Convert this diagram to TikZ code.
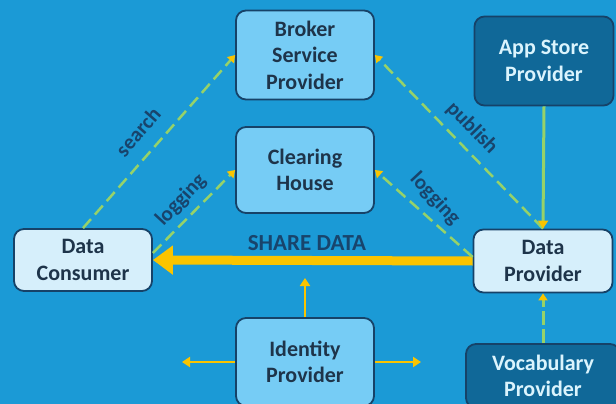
\documentclass[tikz,border=0pt]{standalone}
\usepackage{fontspec}
\setmainfont{Carlito}
\usetikzlibrary{arrows.meta}

\definecolor{bgblue}{RGB}{27,154,214}
\definecolor{lightbox}{RGB}{118,204,245}
\definecolor{palebox}{RGB}{214,239,251}
\definecolor{darkbox}{RGB}{16,104,152}
\definecolor{edgeblue}{RGB}{22,66,104}
\definecolor{textblue}{RGB}{30,52,74}
\definecolor{lblblue}{RGB}{24,68,108}
\definecolor{arrowyellow}{RGB}{250,196,0}
\definecolor{dashgreen}{RGB}{150,210,105}

\tikzset{
	box/.style={draw=edgeblue, line width=1.8pt, rounded corners=10pt, fill=lightbox,
		text=textblue, align=center, font=\fontsize{22}{26.5}\selectfont\bfseries,
		minimum width=138pt, inner sep=1pt},
	palebox/.style={box, fill=palebox},
	darkbox/.style={box, fill=darkbox, text=white!86!cyan},
	lbl/.style={text=lblblue, font=\fontsize{21}{22}\selectfont\bfseries, inner sep=0pt},
	dashlink/.style={draw=dashgreen, line width=2.5pt, dash pattern=on 12pt off 6pt,
		-{Triangle[length=7pt,width=9pt,color=arrowyellow]}},
	idlink/.style={draw=arrowyellow, line width=2pt, -{Triangle[length=8pt,width=10pt]}}
}

\begin{document}
\begin{tikzpicture}[x=1pt, y=-1pt, thick]
	%background
	\fill[bgblue] (0,0) rectangle (616,404);
	\useasboundingbox (0,0) rectangle (616,404);

	%boxes
	\node (broker) at (305,55) [box, minimum height=89pt]{Broker\\Service\\Provider};
	\node (clearing) at (305,170) [box, minimum height=86pt]{Clearing\\House};
	\node (consumer) at (83,260) [palebox, minimum width=138pt, minimum height=62pt]{Data\\Consumer};
	\node (provider) at (543,261) [palebox, minimum width=139pt, minimum height=63pt]{Data\\Provider};
	\node (appstore) at (544,61) [darkbox, minimum width=139pt, minimum height=89pt]{App Store\\Provider};
	\node (vocab) at (543,376) [darkbox, minimum width=154pt, minimum height=64pt]{Vocabulary\\Provider};
	\node (identity) at (305,362) [box, minimum height=88pt]{Identity\\Provider};

	%share data
	\draw[arrowyellow, line width=9pt, -{Triangle[length=20pt,width=28pt]}] (provider.west) -- (consumer.east);
	\node (share) at (307,243) [lbl, font=\fontsize{23}{24}\selectfont\bfseries]{SHARE DATA};

	%dashed links
	\draw[dashlink] (consumer.north) -- (broker.west);
	\draw[dashlink] ([yshift=7pt]consumer.east) -- (clearing.west);
	\draw[dashlink] (provider.north) -- (broker.east);
	\draw[dashlink] ([yshift=4pt]provider.west) -- (clearing.east);
	\node (search) at (138,132) [lbl, rotate=49]{search};
	\node (logleft) at (181,200) [lbl, rotate=47]{logging};
	\node (publish) at (472,128) [lbl, rotate=-46]{publish};
	\node (logright) at (435,199) [lbl, rotate=-47]{logging};

	%providers
	\draw[dashgreen, line width=3pt, -{Triangle[length=8pt,width=10pt,color=arrowyellow]}] (appstore.south) -- (provider.north);
	\draw[dashlink, line width=3pt, dash pattern=on 14pt off 4pt] (vocab.north) -- (provider.south);

	%identity
	\coordinate (idup) at (305,278);
	\coordinate (idleft) at (182,362);
	\coordinate (idright) at (421,362);
	\draw[idlink] (identity.north) -- (idup);
	\draw[idlink] (identity.west) -- (idleft);
	\draw[idlink] (identity.east) -- (idright);
\end{tikzpicture}
\end{document}
